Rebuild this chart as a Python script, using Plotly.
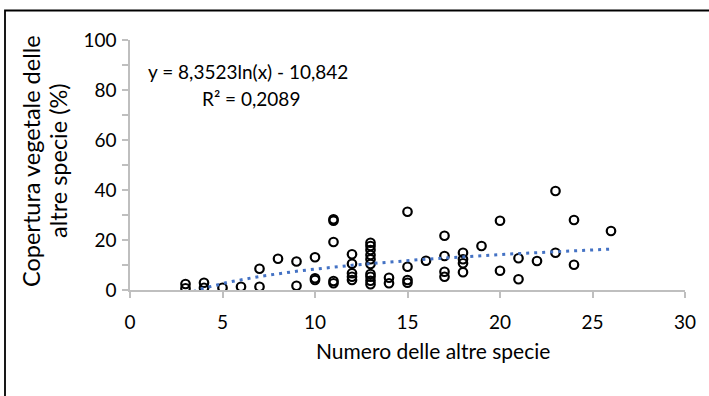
import numpy as np
import plotly.graph_objects as go

# ---- data ----
species_count = [3, 3, 4, 4, 5, 6, 7, 7, 8, 9, 9, 10, 10, 10,
                 11, 11, 11, 11, 11,
                 12, 12, 12, 12, 12,
                 13, 13, 13, 13, 13, 13, 13, 13, 13, 13,
                 14, 14, 15, 15, 15, 15, 16,
                 17, 17, 17, 17, 18, 18, 18, 18, 19,
                 20, 20, 21, 21, 22, 23, 23, 24, 24, 26]
cover_pct = [0.7, 2.4, 0.9, 2.9, 0.9, 1.3, 8.5, 1.3, 12.5, 11.4, 1.7, 13.1, 4.7, 4.0,
             28.3, 27.7, 19.2, 3.6, 2.7,
             14.3, 10.5, 6.7, 5.3, 4.0,
             18.9, 17.6, 16.0, 14.0, 12.3, 10.4, 6.4, 5.3, 3.7, 2.3,
             4.9, 2.7, 31.3, 9.3, 4.0, 2.9, 11.7,
             21.7, 13.6, 7.3, 5.3, 14.9, 12.3, 10.7, 7.1, 17.6,
             27.7, 7.7, 12.7, 4.3, 11.6, 39.6, 14.9, 28.0, 10.1, 23.6]

# logarithmic trendline coefficients as printed on the chart
trend_a = 8.3523
trend_b = -10.842
r_squared = 0.2089

x_tick_vals = [0, 5, 10, 15, 20, 25, 30]
y_tick_vals = [0, 20, 40, 60, 80, 100]

eq_text = "y = 8,3523ln(x) - 10,842"
r2_text = "R² = 0,2089"
x_title = "Numero delle altre specie"
y_title_lines = ["Copertura vegetale delle", "altre specie (%)"]

# ---- layout geometry (pixels) ----
W, H = 709, 396
L, R, T, B = 130, 685, 40, 290


def px(xp):
    return (xp - L) / (R - L)


def py(yp):
    return (B - yp) / (B - T)


trend_x = np.linspace(min(species_count), max(species_count), 200)
trend_y = trend_a * np.log(trend_x) + trend_b

FONT = "Lato, Calibri, Carlito, sans-serif"
AXIS_GRAY = "#BFBFBF"

fig = go.Figure()
fig.add_trace(go.Scatter(
    x=species_count, y=cover_pct, mode="markers",
    marker=dict(symbol="circle-open", size=8.5, color="black",
                line=dict(width=2.2, color="black")),
    showlegend=False, hoverinfo="x+y"))
fig.add_trace(go.Scatter(
    x=trend_x, y=trend_y, mode="lines",
    line=dict(color="#4472C4", width=3, dash="3px,5px"),
    showlegend=False, hoverinfo="skip"))

annotations = [
    dict(x=px(248), y=py(71), xref="paper", yref="paper", text=eq_text,
         showarrow=False, font=dict(size=19), xanchor="center", yanchor="middle"),
    dict(x=px(251), y=py(98), xref="paper", yref="paper", text=r2_text,
         showarrow=False, font=dict(size=19), xanchor="center", yanchor="middle"),
    dict(x=px(433), y=py(350), xref="paper", yref="paper", text=x_title,
         showarrow=False, font=dict(size=21), xanchor="center", yanchor="middle"),
]
for line_text, xpix in zip(y_title_lines, [31, 58]):
    annotations.append(dict(x=px(xpix), y=py(161), xref="paper", yref="paper",
                            text=line_text, showarrow=False, font=dict(size=23.5),
                            textangle=-90, xanchor="center", yanchor="middle"))

fig.update_layout(
    width=W, height=H,
    margin=dict(l=L, r=W - R, t=T, b=H - B),
    paper_bgcolor="white", plot_bgcolor="white",
    font=dict(family=FONT, size=19, color="black"),
    xaxis=dict(range=[0, 30], tickvals=x_tick_vals, showgrid=False, zeroline=False,
               showline=True, linecolor=AXIS_GRAY, linewidth=1.5,
               ticks="outside", ticklen=6, tickcolor=AXIS_GRAY, tickwidth=1.5,
               ticklabelstandoff=8,
               tickfont=dict(size=19), fixedrange=True),
    yaxis=dict(range=[0, 100], tickvals=y_tick_vals, showgrid=False, zeroline=False,
               showline=True, linecolor=AXIS_GRAY, linewidth=1.5,
               ticks="outside", ticklen=6, tickcolor=AXIS_GRAY, tickwidth=1.5,
               minor=dict(dtick=10, ticks="outside", ticklen=6, tickcolor=AXIS_GRAY, tickwidth=1.5),
               ticklabelstandoff=2,
               tickfont=dict(size=19), fixedrange=True),
    annotations=annotations,
    shapes=[dict(type="rect", xref="paper", yref="paper",
                 x0=px(5), y0=py(402), x1=px(715), y1=py(10.5),
                 line=dict(color="black", width=1.8), fillcolor="rgba(0,0,0,0)",
                 layer="above")],
)

fig.write_html("out.html")
